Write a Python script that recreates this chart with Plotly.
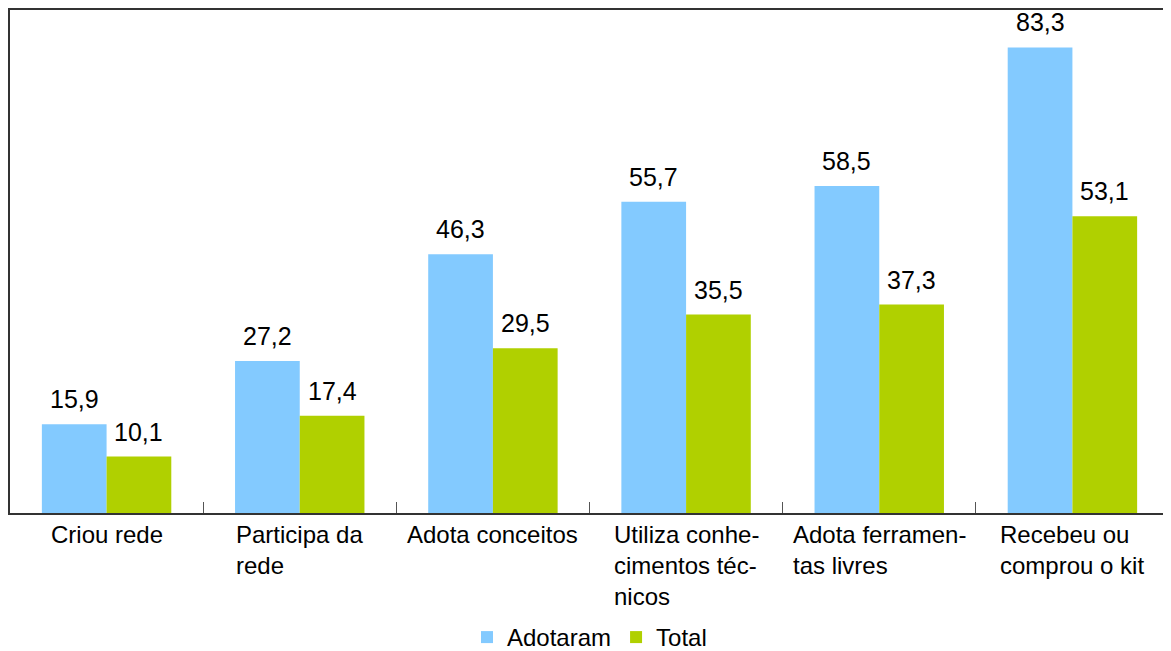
import plotly.graph_objects as go

categories = ["Criou rede", "Participa da<br>rede", "Adota conceitos",
              "Utiliza conhe-<br>cimentos téc-<br>nicos", "Adota ferramen-<br>tas livres",
              "Recebeu ou<br>comprou o kit"]
adotaram = [15.9, 27.2, 46.3, 55.7, 58.5, 83.3]
total = [10.1, 17.4, 29.5, 35.5, 37.3, 53.1]
series_names = ["Adotaram", "Total"]
colors = ["#83CAFF", "#B0D000"]

FONT = "Liberation Sans, Arial, sans-serif"
xs = list(range(len(categories)))
bargap = 0.33
bw = (1 - bargap) / 2

fig = go.Figure()
for name, vals, col in zip(series_names, [adotaram, total], colors):
    fig.add_trace(go.Bar(x=xs, y=vals, name=name, marker_color=col,
                         marker_line_width=0))

annotations = []
for k, vals in enumerate([adotaram, total]):
    off = (-bw / 2) if k == 0 else (bw / 2)
    for i, v in enumerate(vals):
        annotations.append(dict(x=i + off, y=v, xref="x", yref="y",
                                text=f"{v:.1f}".replace(".", ","),
                                showarrow=False, yanchor="bottom", yshift=9,
                                font=dict(size=25, color="#000000", family=FONT)))
for i, c in enumerate(categories):
    annotations.append(dict(x=i, y=0, xref="x", yref="paper", text=c,
                            showarrow=False, yanchor="top", align="left",
                            yshift=-6,
                            font=dict(size=24, color="#000000", family=FONT)))

fig.update_layout(
    width=1163, height=660,
    margin=dict(l=2, r=0, t=0, b=155),
    paper_bgcolor="white", plot_bgcolor="white",
    barmode="group", bargap=bargap, bargroupgap=0,
    font=dict(family=FONT, size=24, color="#000000"),
    showlegend=True,
    legend=dict(orientation="h", x=0.5, xanchor="center", y=-0.2475, yanchor="middle",
                font=dict(size=24, family=FONT), itemwidth=30,
                traceorder="normal"),
    annotations=annotations,
)
fig.update_xaxes(range=[-0.5, len(categories) - 0.5], tickmode="array",
                 tickvals=[i + 0.5 for i in range(len(categories) - 1)],
                 ticktext=["" for _ in range(len(categories) - 1)],
                 ticks="inside", ticklen=11, tickcolor="#555555", tickwidth=1,
                 showline=True, linecolor="#333333", linewidth=2, mirror=True,
                 showgrid=False, zeroline=False)
fig.update_yaxes(range=[0, 90], showticklabels=False, ticks="",
                 showline=True, linecolor="#333333", linewidth=2, mirror=True,
                 showgrid=False, zeroline=False)

fig.write_html("out.html")
